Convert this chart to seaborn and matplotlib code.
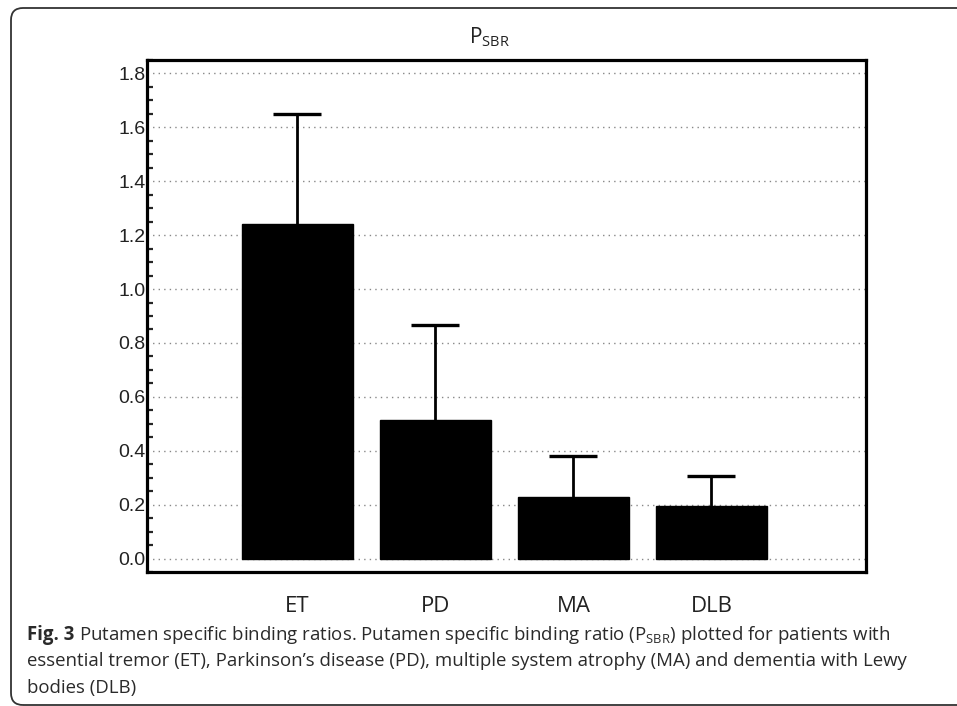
import numpy as np
import pandas as pd
import seaborn as sns
import matplotlib.pyplot as plt
from matplotlib.patches import FancyBboxPatch
from matplotlib.ticker import MultipleLocator

# datos
groups = ['ET', 'PD', 'MA', 'DLB']
psbr_mean = [1.24, 0.515, 0.23, 0.194]
psbr_err = [0.41, 0.35, 0.15, 0.114]
y_ticks = [0.0, 0.2, 0.4, 0.6, 0.8, 1.0, 1.2, 1.4, 1.6, 1.8]

df = pd.DataFrame({'group': groups, 'psbr': psbr_mean})

sns.set_style("white")
plt.rcParams['font.family'] = ['Liberation Sans', 'DejaVu Sans']
plt.rcParams['mathtext.fontset'] = 'custom'
plt.rcParams['mathtext.rm'] = 'Open Sans'
plt.rcParams['mathtext.bf'] = 'Open Sans:bold'

fig = plt.figure(figsize=(9.57, 7.06), dpi=100)
ax = fig.add_axes([147/957, 1 - 572/706, (866 - 147)/957, (572 - 60)/706])

sns.barplot(data=df, x='group', y='psbr', color='black', edgecolor='black',
            width=0.8, errorbar=None, saturation=1, ax=ax, zorder=2)
# solo la mitad superior de la barra de error
eb = ax.errorbar(np.arange(len(groups)), psbr_mean,
                 yerr=[np.zeros(len(groups)), psbr_err],
                 fmt='none', ecolor='black', elinewidth=2, capsize=17, capthick=2.4, zorder=3)
for cl in eb[1]:
    if np.allclose(cl.get_ydata(), psbr_mean):
        cl.set_visible(False)

ax.set_xlim(-1.09, 4.12)
ax.set_ylim(-0.05, 1.85)
ax.set_yticks(y_ticks)
ax.set_yticklabels([f'{v:.1f}' for v in y_ticks], fontsize=14, color='#222222')
ax.yaxis.set_minor_locator(MultipleLocator(0.05))
ax.tick_params(axis='y', which='major', direction='in', length=8, width=1.8, pad=1)
ax.tick_params(axis='y', which='minor', direction='in', length=4.5, width=1.6, left=True)
ax.tick_params(axis='x', length=0, pad=17)
for lab in ax.get_xticklabels():
    lab.set_fontfamily('Open Sans')
    lab.set_fontsize(16)
    lab.set_color('#222222')

ax.grid(axis='y', which='major', linestyle=(0, (1, 3)), color='#888888', linewidth=1, zorder=0)
ax.set_axisbelow(True)
for sp in ax.spines.values():
    sp.set_visible(True)
    sp.set_linewidth(2.3)
    sp.set_color('black')

ax.set_xlabel('')
ax.set_ylabel('')
ax.set_title(r'P$_{\mathrm{SBR}}$', fontfamily='Open Sans', fontsize=15,
             x=0.477, pad=12, color='#222222')

# marco redondeado y leyenda de la figura
frame = FancyBboxPatch((11, 1), 980, 697, boxstyle='round,pad=0,rounding_size=12',
                       transform=None, facecolor='none', edgecolor='#333333', linewidth=1.3)
fig.patches.append(frame)

cap_size = 13.4
cap_color = '#2a2a2a'
x0 = 27/957
bold = fig.text(x0, 1 - 635/706, 'Fig. 3', fontfamily='Open Sans', fontweight='bold',
                fontsize=cap_size, color=cap_color, va='center', ha='left')
fig.canvas.draw()
bb = bold.get_window_extent()
x1 = (bb.x1 + 5) / fig.bbox.width

cap_lines = [
    r'Putamen specific binding ratios. Putamen specific binding ratio (P$_{\mathrm{SBR}}$) plotted for patients with',
    'essential tremor (ET), Parkinson\u2019s disease (PD), multiple system atrophy (MA) and dementia with Lewy',
    'bodies (DLB)',
]
for i, line in enumerate(cap_lines):
    fig.text(x1 if i == 0 else x0, 1 - (635 + 26.5*i)/706, line, fontfamily='Open Sans',
             fontsize=cap_size, color=cap_color, va='center', ha='left')

fig.savefig('out.png', dpi=100)
